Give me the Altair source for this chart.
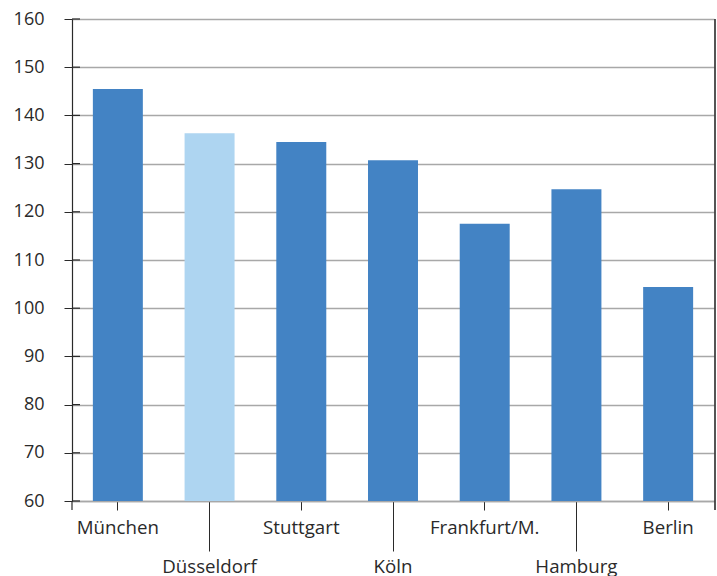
import altair as alt
import pandas as pd

# Index values by city
cities = ["München", "Düsseldorf", "Stuttgart", "Köln", "Frankfurt/M.", "Hamburg", "Berlin"]
values = [145.5, 136.3, 134.5, 130.7, 117.5, 124.7, 104.4]
highlight = "Düsseldorf"
y_ticks = [60, 70, 80, 90, 100, 110, 120, 130, 140, 150, 160]
lower_row = ["Düsseldorf", "Köln", "Hamburg"]

DARK = "#4383c4"
LIGHT = "#aed5f1"
GRID = "#a8a8a8"
INK = "#2a2a2a"
FONT = "Open Sans"

df = pd.DataFrame({"city": cities, "value": values, "base": [60] * len(cities)})
ticks_df = pd.DataFrame({"t": y_ticks})

lower_test = "indexof(" + str(lower_row).replace('"', "'") + ", datum.value) >= 0"

x_enc = alt.X(
    "city:N",
    sort=cities,
    scale=alt.Scale(domain=cities, paddingInner=0.455, paddingOuter=0.2275),
    axis=alt.Axis(
        title=None,
        labelAngle=0,
        labelOverlap=False,
        labelFont=FONT,
        labelFontSize=18.7,
        labelColor=INK,
        domainColor=GRID,
        domainWidth=1.3,
        tickColor=INK,
        tickWidth=1,
        tickSize={"condition": {"test": lower_test, "value": 50}, "value": 9},
        labelPadding={"condition": {"test": lower_test, "value": 6}, "value": 8},
    ),
)

y_scale = alt.Scale(domain=[60, 160], nice=False, zero=False)

bars = alt.Chart(df).mark_bar().encode(
    x=x_enc,
    y=alt.Y(
        "value:Q",
        scale=y_scale,
        axis=alt.Axis(
            title=None,
            values=y_ticks,
            grid=True,
            gridColor=GRID,
            gridWidth=1.3,
            domainColor=INK,
            domainWidth=1.2,
            tickColor=INK,
            tickSize=8,
            labelPadding=20,
            labelFont=FONT,
            labelFontSize=18,
            labelColor=INK,
        ),
    ),
    y2="base:Q",
    color=alt.condition(alt.datum.city == highlight, alt.value(LIGHT), alt.value(DARK)),
)

# inner half of the y-axis tick marks
inner_ticks = alt.Chart(ticks_df).mark_rule(color=INK, strokeWidth=1.2).encode(
    y=alt.Y("t:Q", scale=y_scale),
    x=alt.value(0),
    x2=alt.value(8),
)

# right frame line and the small extension of the left axis below the baseline
frame_df = pd.DataFrame({"side": ["right", "left"]})
right_line = alt.Chart(frame_df.iloc[:1]).mark_rule(color=INK, strokeWidth=1.6).encode(
    x=alt.value(643), y=alt.value(0), y2=alt.value(491)
)
left_ext = alt.Chart(frame_df.iloc[1:]).mark_rule(color=INK, strokeWidth=1.2).encode(
    x=alt.value(0), y=alt.value(482), y2=alt.value(491)
)

chart = (
    alt.layer(bars, inner_ticks, right_line, left_ext)
    .properties(
        width=642,
        height=482,
        autosize=alt.AutoSizeParams(type="none"),
        padding={"left": 72, "top": 19, "right": 3, "bottom": 75},
        background="white",
    )
    .configure_view(stroke=None)
)

chart.save("out.html", embed_options={"renderer": "svg", "actions": False})
